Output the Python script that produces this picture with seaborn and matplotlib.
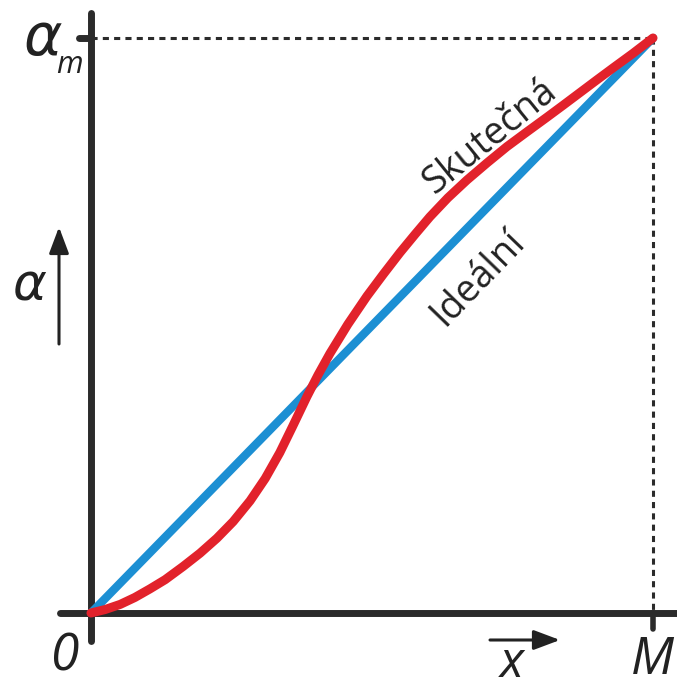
import pandas as pd
import seaborn as sns
import matplotlib.pyplot as plt

sns.set_style('white')
plt.rcParams['font.family'] = ['Open Sans', 'DejaVu Sans']

# relativni poloha x/M a natoceni alpha/alpha_m
ideal_x = [0.0, 1.0]
ideal_y = [0.0, 1.0]
real_x = [0.000, 0.025, 0.052, 0.078, 0.105, 0.132, 0.164, 0.194, 0.224, 0.253,
          0.283, 0.310, 0.336, 0.359, 0.384, 0.404, 0.425, 0.457, 0.491, 0.520,
          0.550, 0.577, 0.603, 0.635, 0.669, 0.705, 0.740, 0.776, 0.811, 0.840,
          0.870, 0.900, 0.929, 0.964, 1.000]
real_y = [0.000, 0.006, 0.015, 0.027, 0.042, 0.058, 0.081, 0.104, 0.130, 0.159,
          0.195, 0.234, 0.279, 0.325, 0.376, 0.414, 0.451, 0.502, 0.551, 0.589,
          0.627, 0.659, 0.689, 0.722, 0.753, 0.783, 0.811, 0.837, 0.862, 0.883,
          0.905, 0.927, 0.948, 0.973, 1.000]

df_ideal = pd.DataFrame({'x': ideal_x, 'alpha': ideal_y})
df_real = pd.DataFrame({'x': real_x, 'alpha': real_y})

W, H = 677, 684
x0, y0, sx, sy = 91, 613, 562, 575   # pixel poloha pocatku a meritko

fig = plt.figure(figsize=(W / 100, H / 100), dpi=100)
ax = fig.add_axes([0, 0, 1, 1])

def px(x, y):
    return (x - x0) / sx, (y0 - y) / sy

axis_c = '#2b2b2b'
# osy
ax.plot(*zip(px(91, 13), px(91, 641)), color=axis_c, lw=5, solid_capstyle='round')
ax.plot(*zip(px(60, 613), px(680, 613)), color=axis_c, lw=5, solid_capstyle='round')
ax.plot(*zip(px(79, 38), px(91, 38)), color=axis_c, lw=5, solid_capstyle='round')
ax.plot(*zip(px(653, 613), px(653, 629)), color=axis_c, lw=4, solid_capstyle='round')

# pomocne carkovane cary
ax.plot([0, 1], [1, 1], color=axis_c, lw=2.2, dashes=(2, 1.7))
ax.plot([1, 1], [1, 0], color=axis_c, lw=2.2, dashes=(2, 1.7))

sns.lineplot(data=df_ideal, x='x', y='alpha', ax=ax, color='#1c8fd3', lw=6,
             solid_capstyle='round', sort=False)
sns.lineplot(data=df_real, x='x', y='alpha', ax=ax, color='#e2222b', lw=6.5,
             solid_capstyle='round', solid_joinstyle='round', sort=False)
ax.set_xlim(-x0 / sx, (W - x0) / sx)
ax.set_ylim((y0 - H) / sy, y0 / sy)
ax.axis('off')

# popisky
txt = '#222222'
ax.text(*px(43, 40), r'$\alpha$', fontsize=42, color=txt, ha='center', va='center',
        math_fontfamily='dejavusans')
ax.text(*px(69, 65), 'm', fontsize=22, style='italic', color=txt, ha='center', va='center')
ax.text(*px(30, 286), r'$\alpha$', fontsize=37, color=txt, ha='center', va='center',
        math_fontfamily='dejavusans')
ax.text(*px(64, 657), '0', fontsize=37, style='italic', color=txt, ha='center', va='center')
ax.text(*px(512, 664), 'x', fontsize=36, style='italic', color=txt, ha='center', va='center')
ax.text(*px(652, 660), 'M', fontsize=37, style='italic', color=txt, ha='center', va='center')

ax.annotate('', xy=px(59, 227), xytext=px(59, 344),
            arrowprops=dict(arrowstyle='-|>,head_length=1.6,head_width=0.6', lw=2.2,
                            color=txt, shrinkA=0, shrinkB=0))
ax.annotate('', xy=px(560, 640), xytext=px(490, 640),
            arrowprops=dict(arrowstyle='-|>,head_length=1.6,head_width=0.6', lw=2.2,
                            color=txt, shrinkA=0, shrinkB=0))

ax.text(*px(490, 137), 'Skutečná', fontsize=27, rotation=39, color=txt,
        ha='center', va='center', rotation_mode='anchor')
ax.text(*px(478, 278), 'Ideální', fontsize=27, rotation=46, color=txt,
        ha='center', va='center', rotation_mode='anchor')

fig.savefig('out.png', dpi=100)
